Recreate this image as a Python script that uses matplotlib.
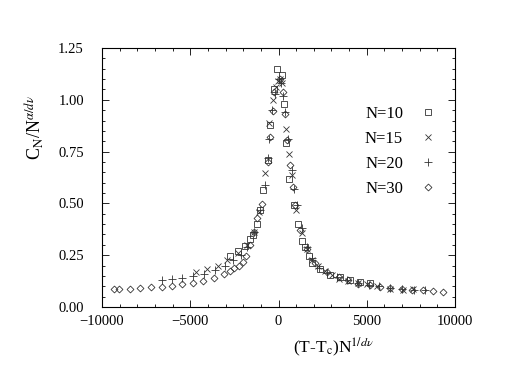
import matplotlib
matplotlib.use("Agg")
import matplotlib.pyplot as plt
from matplotlib.ticker import MultipleLocator

# N=10 (squares)
x10 = [-2750, -2280, -1900, -1600, -1450, -1230, -1040, -850, -600, -470, -280, -95,
       190, 320, 430, 620, 850, 1090, 1320, 1510, 1700, 1890, 2360, 2920, 3490, 4060, 4620, 5190]
y10 = [0.246, 0.272, 0.294, 0.33, 0.347, 0.40, 0.468, 0.565, 0.71, 0.88, 1.05, 1.148,
       1.12, 0.98, 0.79, 0.62, 0.49, 0.40, 0.32, 0.29, 0.247, 0.21, 0.185, 0.156, 0.145, 0.132, 0.12, 0.118]

# N=15 (crosses)
x15 = [-4680, -4060, -3440, -2920, -2300, -1800, -1410, -1100, -790, -510, -320, -150, -55,
       95, 200, 430, 570, 750, 1000, 1320, 1600, 1920, 2260, 2640, 3050, 3400, 3960, 4500,
       5000, 5600, 6320, 7080, 7640]
y15 = [0.17, 0.182, 0.20, 0.225, 0.26, 0.30, 0.363, 0.46, 0.645, 0.887, 0.997, 1.06, 1.09,
       1.10, 1.08, 0.86, 0.74, 0.637, 0.47, 0.355, 0.28, 0.229, 0.20, 0.174, 0.155, 0.137, 0.124, 0.118,
       0.113, 0.10, 0.089, 0.081, 0.085]

# N=20 (plus)
x20 = [-6600, -6040, -5470, -4870, -4200, -3580, -3050, -2550, -2150, -1790, -1400, -1040, -790,
       -600, -510, -380, -190, 0, 150, 245, 380, 510, 750, 850, 1040, 1320, 1600, 1900, 2300,
       2750, 3300, 3900, 4500, 5100, 5700, 6300, 7000, 7700, 8300]
y20 = [0.132, 0.135, 0.142, 0.15, 0.161, 0.178, 0.20, 0.226, 0.25, 0.29, 0.36, 0.47, 0.59,
       0.72, 0.81, 0.95, 1.03, 1.10, 1.08, 1.02, 0.94, 0.81, 0.66, 0.57, 0.49, 0.38, 0.29, 0.235, 0.19,
       0.165, 0.145, 0.128, 0.115, 0.106, 0.099, 0.093, 0.088, 0.084, 0.08]

# N=30 (diamonds)
x30 = [-9340, -9060, -8400, -7830, -7230, -6600, -6040, -5470, -4870, -4250, -3640, -3060,
       -2750, -2500, -2250, -2000, -1830, -1600, -1400, -1230, -940, -600, -470, -320, -245,
       100, 245, 380, 470, 660, 810, 940, 1200, 1600, 2075, 2740, 3400, 3960, 4530, 5190, 5750,
       6320, 6980, 7550, 8200, 8770, 9340]
y30 = [0.089, 0.089, 0.089, 0.092, 0.097, 0.097, 0.10, 0.11, 0.116, 0.126, 0.14, 0.158,
       0.175, 0.19, 0.20, 0.215, 0.245, 0.30, 0.36, 0.43, 0.497, 0.70, 0.82, 0.947, 1.04,
       1.10, 1.04, 0.93, 0.806, 0.685, 0.58, 0.49, 0.37, 0.28, 0.21, 0.17, 0.145, 0.13, 0.113, 0.105, 0.097,
       0.092, 0.089, 0.084, 0.081, 0.076, 0.073]

labels = ["N=10", "N=15", "N=20", "N=30"]

plt.rcParams['font.family'] = ['Liberation Serif', 'DejaVu Serif']
plt.rcParams['mathtext.fontset'] = 'stix'

fig = plt.figure(figsize=(5.07, 3.92), dpi=100)
ax = fig.add_axes([102/507, 1-307/392, 353/507, 259/392])

col = '#333333'
ax.plot(x10, y10, 's', ms=4.5, mfc='none', mec=col, mew=0.6, label=labels[0])
ax.plot(x15, y15, 'x', ms=5, mec=col, mew=0.6, label=labels[1])
ax.plot(x20, y20, '+', ms=5.5, mec=col, mew=0.6, label=labels[2])
ax.plot(x30, y30, 'D', ms=3.5, mfc='none', mec=col, mew=0.6, label=labels[3])

ax.set_xlim(-10000, 10000)
ax.set_ylim(0, 1.25)
ax.xaxis.set_major_locator(MultipleLocator(5000))
ax.xaxis.set_minor_locator(MultipleLocator(1000))
ax.yaxis.set_major_locator(MultipleLocator(0.25))
ax.yaxis.set_minor_locator(MultipleLocator(0.05))
ax.yaxis.set_major_formatter(matplotlib.ticker.FormatStrFormatter('%.2f'))
ax.tick_params(which='both', direction='in', top=True, right=True, labelsize=10.5, width=0.6)
ax.tick_params(which='major', length=5)
ax.tick_params(which='minor', length=2.5)
ax.tick_params(axis='y', which='major', pad=13)
ax.tick_params(axis='x', which='major', pad=6)
for s in ax.spines.values():
    s.set_linewidth(0.8)

ax.set_xlabel(r'(T-T$_{\rm c}$)N$^{1/d\nu}$', fontsize=12.5)
ax.set_ylabel(r'C$_{\rm N}$/N$^{\alpha/d\nu}$', fontsize=13)
ax.xaxis.set_label_coords(0.657, -0.11)
ax.yaxis.set_label_coords(-0.16, 0.695)

leg = ax.legend(loc='upper right', bbox_to_anchor=(0.99, 0.835), frameon=False,
                markerfirst=False, fontsize=12, handlelength=1.0, handletextpad=1.0,
                labelspacing=0.55)

fig.savefig('out.png', dpi=100)
